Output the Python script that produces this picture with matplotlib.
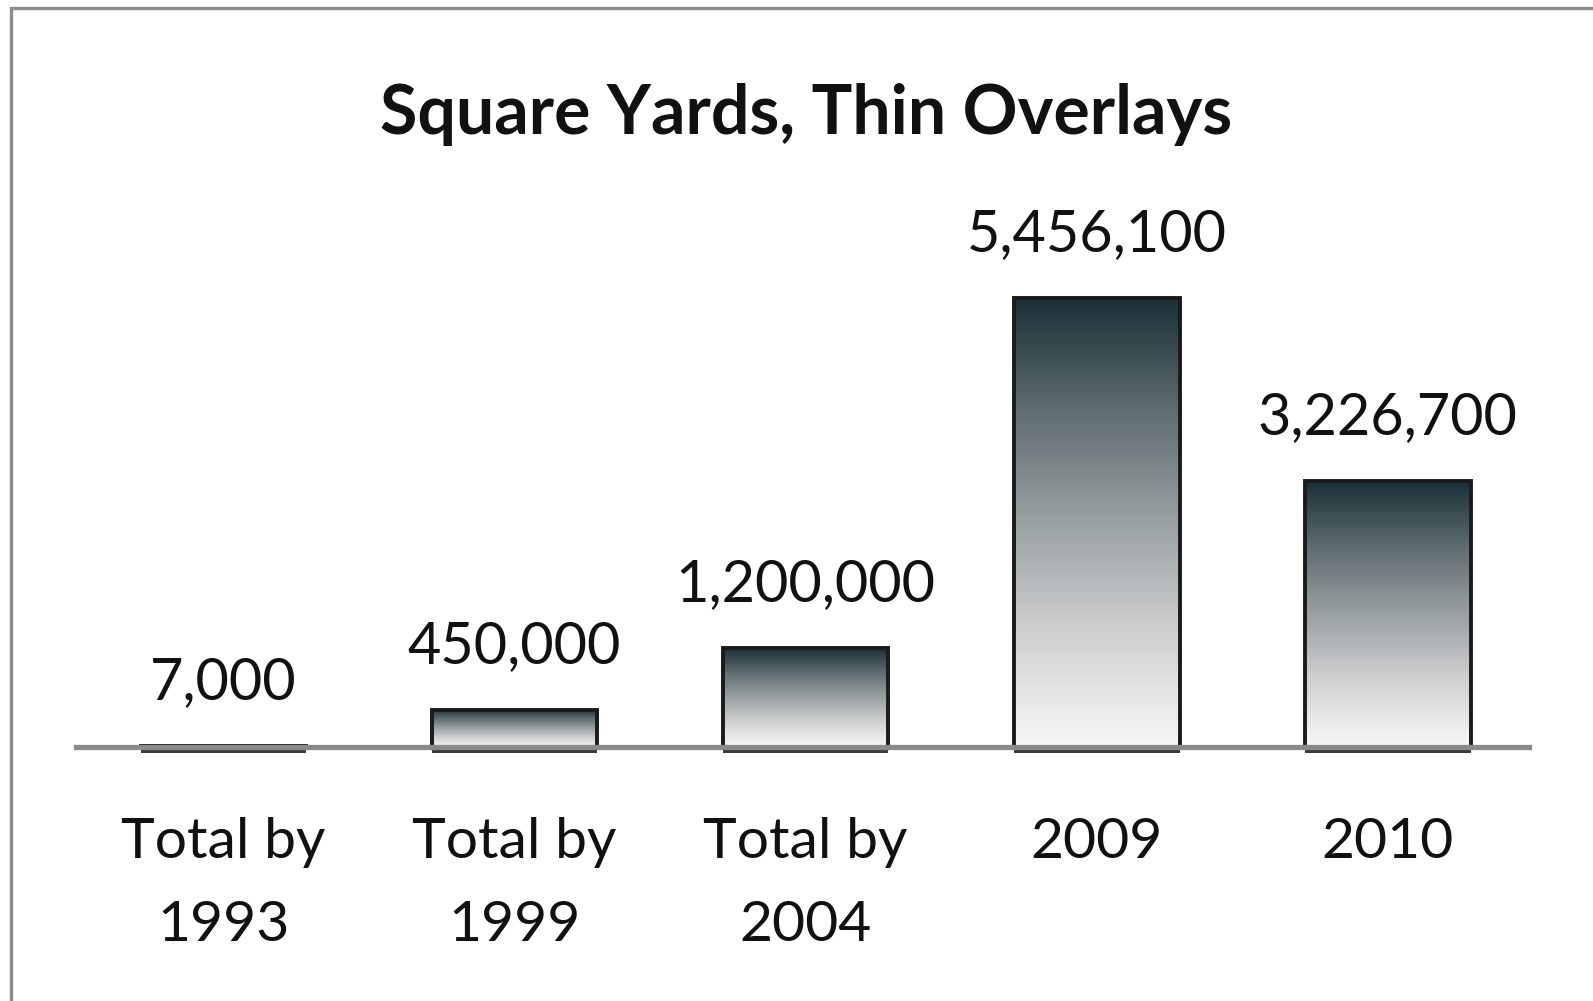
import numpy as np
import matplotlib
matplotlib.use("Agg")
import matplotlib.pyplot as plt
from matplotlib.colors import LinearSegmentedColormap
from matplotlib.patches import Rectangle

# ---- data ----
categories = ["Total by\n1993", "Total by\n1999", "Total by\n2004", "2009", "2010"]
values = [7000, 450000, 1200000, 5456100, 3226700]
value_labels = ["7,000", "450,000", "1,200,000", "5,456,100", "3,226,700"]

plt.rcParams['font.family'] = ['Lato', 'DejaVu Sans']

fig = plt.figure(figsize=(15.93, 10.01), dpi=100)
fig.patch.set_facecolor("white")

# gray frame, only top and left edges show
fig.patches.append(Rectangle((11 / 1593, -0.1), 2.0, 1.1 - 8 / 1001, transform=fig.transFigure,
                             fill=False, edgecolor="#8c8c8c", linewidth=2.4, zorder=0))

ax = fig.add_axes([76 / 1593, (1001 - 747) / 1001, 1453 / 1593, 597 / 1001])
ymax = 5456100 * 597 / 449
ax.set_xlim(-0.507, 4.486)
ax.set_ylim(0, ymax)
ax.axis("off")

grad = LinearSegmentedColormap.from_list("bar", ["#f7f7f7", "#d0d1d2", "#9aa1a3", "#5f6d71", "#1a3037"])
g = np.linspace(0, 1, 256).reshape(-1, 1)
width = 0.57
px = 5456100 / 449  # data units per pixel

for i, v in enumerate(values):
    # dark strip under the baseline
    ax.bar(i, 6 * px, bottom=-6 * px, width=width, color="#3a3a3a", zorder=3, clip_on=False)
    rect = ax.bar(i, v, width=width, facecolor="none", edgecolor="#1a1a1a", linewidth=2.8, zorder=3)[0]
    im = ax.imshow(g, cmap=grad, aspect="auto", origin="lower",
                   extent=[i - width / 2, i + width / 2, 0, v], zorder=2)
    im.set_clip_path(rect)
    ax.annotate(value_labels[i], (i, v), xytext=(0, 34), textcoords="offset points",
                ha="center", va="baseline", fontsize=41.5, color="#111111")
    ax.text(i, -70 * px, categories[i], ha="center", va="top", fontsize=41,
            color="#111111", linespacing=1.78, clip_on=False)

ax.axhline(0, color="#8a8a8a", linewidth=3.8, zorder=4, clip_on=False)

fig.text(806 / 1593, 1 - 114 / 1001, "Square Yards, Thin Overlays", ha="center", va="center",
         fontsize=49, fontweight="bold", color="#111111")

fig.savefig("out.png", dpi=100)
